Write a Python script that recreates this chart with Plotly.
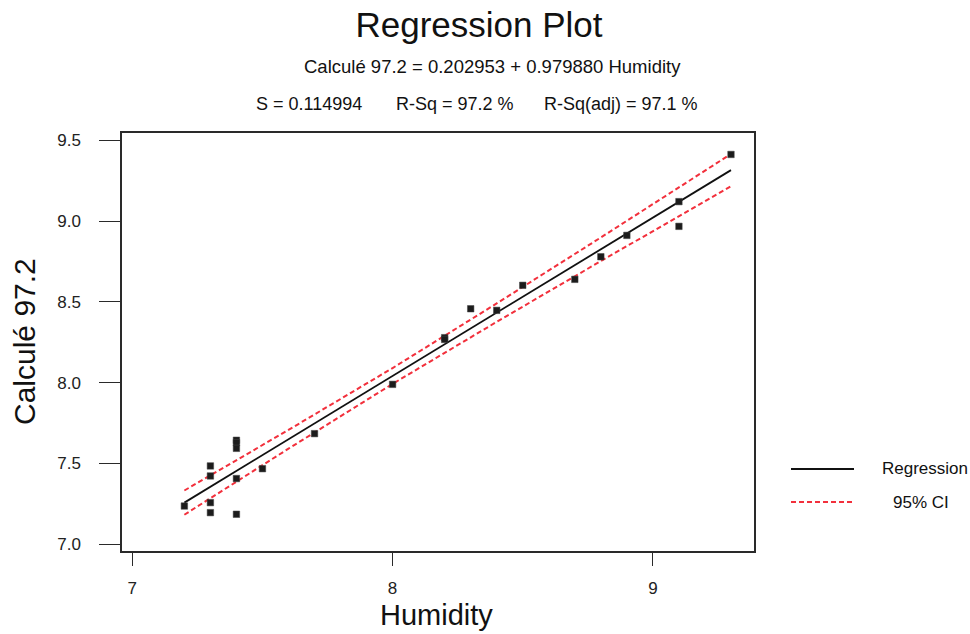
import plotly.graph_objects as go

# Observed data (Humidity vs Calculé 97.2)
humidity = [7.2, 7.3, 7.3, 7.3, 7.3, 7.4, 7.4, 7.4, 7.4, 7.4, 7.5, 7.7, 8.0,
            8.2, 8.2, 8.3, 8.4, 8.5, 8.7, 8.8, 8.9, 9.1, 9.1, 9.3]
calcule = [7.237, 7.485, 7.423, 7.258, 7.196, 7.644, 7.629, 7.594, 7.407, 7.186, 7.468, 7.685, 7.990,
           8.279, 8.268, 8.458, 8.448, 8.603, 8.640, 8.780, 8.912, 9.121, 8.968, 9.413]

# Fitted regression line and 95% confidence band
fit_x = [7.2, 7.6, 8.0, 8.4, 8.8, 9.3]
fit_y = [7.258, 7.650, 8.042, 8.434, 8.826, 9.316]
ci_upper = [7.333, 7.708, 8.091, 8.491, 8.899, 9.416]
ci_lower = [7.183, 7.592, 7.993, 8.377, 8.753, 9.216]

x_ticks = [7, 8, 9]
y_ticks = [7.0, 7.5, 8.0, 8.5, 9.0, 9.5]

FONT = "Arial, 'Liberation Sans', sans-serif"
RED = "#f2303c"

fig = go.Figure()
fig.add_trace(go.Scatter(x=fit_x, y=ci_upper, mode="lines",
                         line=dict(color=RED, width=2, dash="5px,3px"), hoverinfo="skip"))
fig.add_trace(go.Scatter(x=fit_x, y=ci_lower, mode="lines",
                         line=dict(color=RED, width=2, dash="5px,3px"), hoverinfo="skip"))
fig.add_trace(go.Scatter(x=fit_x, y=fit_y, mode="lines",
                         line=dict(color="#111111", width=1.8)))
fig.add_trace(go.Scatter(x=humidity, y=calcule, mode="markers",
                         marker=dict(symbol="square", size=6.5, color="#1c1c1c",
                                     line=dict(color="#444", width=0.5))))

fig.update_layout(
    width=970, height=634,
    margin=dict(l=122, r=216, t=133, b=83, autoexpand=False),
    paper_bgcolor="white", plot_bgcolor="white",
    showlegend=False,
    font=dict(family=FONT, color="#1a1a1a"),
    title=dict(text="Regression Plot", x=479 / 970, xanchor="center",
               y=1 - 25 / 634, yanchor="middle", yref="container",
               font=dict(size=35, family=FONT, color="#111")),
)

fig.update_xaxes(range=[6.9604, 9.3884], tickvals=x_ticks, ticktext=[str(v) for v in x_ticks],
                 showgrid=False, zeroline=False, showline=True, mirror=True,
                 linecolor="#2a2a2a", linewidth=1.5, automargin=False,
                 ticks="outside", ticklen=13, tickwidth=1.3, tickcolor="#2a2a2a",
                 ticklabelstandoff=8,
                 tickfont=dict(size=17, family=FONT, color="#222"))
fig.update_yaxes(range=[6.9586, 9.5458], tickvals=y_ticks, ticktext=[f"{v:.1f}" for v in y_ticks],
                 showgrid=False, zeroline=False, showline=True, mirror=True,
                 linecolor="#2a2a2a", linewidth=1.5, automargin=False,
                 ticks="outside", ticklen=21, tickwidth=1.3, tickcolor="#2a2a2a",
                 ticklabelstandoff=15,
                 tickfont=dict(size=17, family=FONT, color="#222"))

def px_x(px):
    return (px - 122) / 632

def px_y(py):
    return (551 - py) / 418

annots = [
    ("Calculé 97.2 = 0.202953 + 0.979880 Humidity", 492, 66, 18.5, 0),
    ("S = 0.114994", 309, 104, 18, 0),
    ("R-Sq = 97.2 %", 455, 104, 18, 0),
    ("R-Sq(adj) = 97.1 %", 621, 104, 18, 0),
    ("Regression", 925, 468, 17, 0),
    ("95% CI", 921, 502, 17, 0),
    ("Humidity", 436, 615, 29, 0),
    ("Calculé 97.2", 24, 342, 30, -90),
]
for text, ax, ay, fs, ang in annots:
    fig.add_annotation(text=text, x=px_x(ax), y=px_y(ay), xref="paper", yref="paper",
                       xanchor="center", yanchor="middle", showarrow=False, textangle=ang,
                       borderpad=0,
                       font=dict(size=fs, family=FONT, color="#111"))

# legend keys
fig.add_shape(type="line", xref="paper", yref="paper",
              x0=px_x(791), x1=px_x(854), y0=px_y(469), y1=px_y(469),
              line=dict(color="#111", width=1.8))
fig.add_shape(type="line", xref="paper", yref="paper",
              x0=px_x(791), x1=px_x(854), y0=px_y(502), y1=px_y(502),
              line=dict(color=RED, width=2, dash="5px,3px"))

fig.write_html("out.html")
